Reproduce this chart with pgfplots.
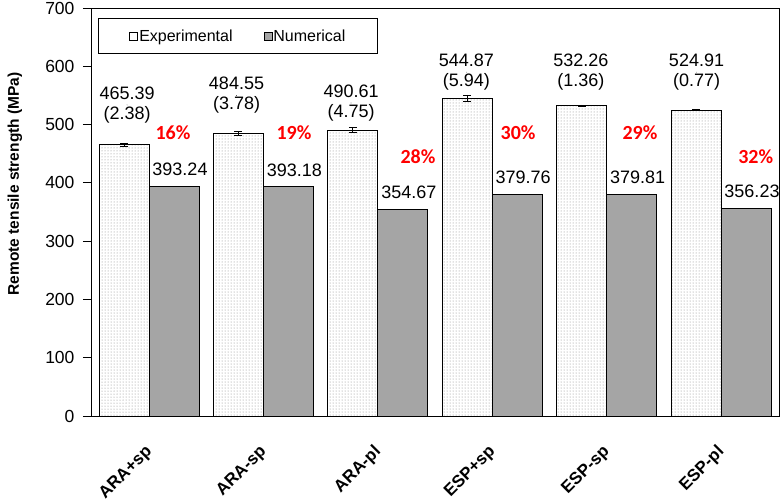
\documentclass[border=0pt]{standalone}
\usepackage{fontspec}
\setmainfont{Liberation Sans}
\newfontfamily\calibri{Carlito}
\usepackage{pgfplots}
\pgfplotsset{compat=1.18}
\usetikzlibrary{patterns}
\definecolor{numgray}{RGB}{165,165,165}
\pgfplotsset{/pgf/number format/assume math mode=true}

\begin{document}
\begin{tikzpicture}
\useasboundingbox (0,0) rectangle (780pt,499pt);
\begin{axis}[
    at={(91pt,83pt)}, anchor=south west,
    scale only axis, width=688pt, height=408pt,
    xmin=-0.507, xmax=5.507, ymin=0, ymax=700,
    ytick={0,100,...,700},
    xtick={0,...,5},
    xticklabels={ARA+sp,ARA-sp,ARA-pl,ESP+sp,ESP-sp,ESP-pl},
    axis line style={line width=0.9pt},
    ytick pos=left, tick align=outside, major tick length=8pt,
    x tick style={draw=none},
    y tick style={line width=0.9pt, black},
    yticklabel style={font=\fontsize{17.5}{20}\selectfont, xshift=-5pt},
    xticklabel style={yshift=-25pt, xshift=1pt, rotate=45, anchor=east,
        inner sep=0.5pt, font=\bfseries\fontsize{17}{20}\selectfont},
    ylabel={Remote tensile strength  (MPa)},
    ylabel style={at={(axis description cs:-0.1105,0.569)}, anchor=center,
        font=\bfseries\fontsize{15.5}{18}\selectfont},
    legend columns=2,
    legend style={at={(axis description cs:0.0102,0.9755)}, anchor=north west,
        draw=black, line width=0.9pt, font=\fontsize{16}{19}\selectfont,
        inner xsep=31pt, inner ysep=10pt, nodes={inner sep=1pt},
        /tikz/every even column/.append style={column sep=30pt}},
]

% experimental (mean, std), bars left of the group centre
\addplot[ybar, bar width=0.437, bar shift=0, draw=black, line width=0.8pt,
    pattern=dots, pattern color=black!50,
    legend image code/.code={\draw[black, line width=0.8pt, fill=white] (0pt,-4pt) rectangle (8pt,4pt);},
    error bars/.cd, y dir=both, y explicit,
    error bar style={line width=0.8pt, black},
    error mark options={rotate=90, mark size=4pt, line width=0.8pt, black}]
coordinates {
    (-0.2185,465.39) +- (0,2.38)
    (0.7815,484.55) +- (0,3.78)
    (1.7815,490.61) +- (0,4.75)
    (2.7815,544.87) +- (0,5.94)
    (3.7815,532.26) +- (0,1.36)
    (4.7815,524.91) +- (0,0.77)
};
\addlegendentry{Experimental}

% numerical, bars right of the group centre
\addplot[ybar, bar width=0.437, bar shift=0, draw=black, line width=0.8pt,
    fill=numgray,
    legend image code/.code={\draw[black, line width=0.8pt, fill=numgray] (0pt,-4pt) rectangle (8pt,4pt);},
    nodes near coords={\pgfmathprintnumber[fixed,fixed zerofill,precision=2]{\pgfplotspointmeta}},
    nodes near coords style={font=\fontsize{18}{20}\selectfont, anchor=center,
        yshift=17pt, xshift=6pt, black}]
coordinates {
    (0.2185,393.24)
    (1.2185,393.18)
    (2.2185,354.67)
    (3.2185,379.76)
    (4.2185,379.81)
    (5.2185,356.23)
};
\addlegendentry{Numerical}

% labels above the experimental bars
\addplot[forget plot, only marks, mark=*, mark size=0.01pt,
    mark options={draw=none, fill=none},
    nodes near coords, point meta=explicit symbolic,
    nodes near coords style={font=\fontsize{18}{20}\selectfont, align=center,
        anchor=center, black}]
coordinates {
    (-0.192,533.6) [{465.39\\(2.38)}]
    (0.765,549.9) [{484.55\\(3.78)}]
    (1.766,537.0) [{490.61\\(4.75)}]
    (2.775,590.0) [{544.87\\(5.94)}]
    (3.776,590.0) [{532.26\\(1.36)}]
    (4.786,590.0) [{524.91\\(0.77)}]
};

% difference between experiment and model
\addplot[forget plot, only marks, mark=*, mark size=0.01pt,
    mark options={draw=none, fill=none},
    nodes near coords, point meta=explicit symbolic,
    nodes near coords style={font=\calibri\bfseries\fontsize{20}{22}\selectfont,
        anchor=center, red}]
coordinates {
    (0.210,485.5) [16\%]
    (1.267,485.5) [19\%]
    (2.351,444.4) [28\%]
    (3.226,485.5) [30\%]
    (4.292,485.5) [29\%]
    (5.304,444.4) [32\%]
};
\end{axis}
\end{tikzpicture}
\end{document}
